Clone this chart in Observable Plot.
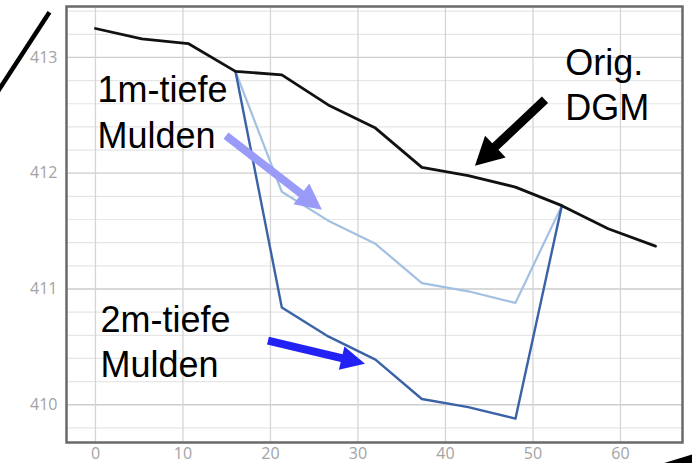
<!DOCTYPE html>
<html>
<head>
<meta charset="utf-8">
<script src="https://cdn.jsdelivr.net/npm/d3@7"></script>
<script src="https://cdn.jsdelivr.net/npm/@observablehq/plot@0.6"></script>
<style>
  html, body { margin: 0; padding: 0; background: #fff; overflow: hidden; }
</style>
</head>
<body>
<div id="chart"></div>
<script>
// ---- data ----
const xDist = [0, 5.3, 10.6, 16, 21.3, 26.6, 32, 37.3, 42.6, 48, 53.3, 58.6, 64];
const origDGM = [413.25, 413.16, 413.12, 412.88, 412.85, 412.59, 412.39, 412.05, 411.98, 411.88, 411.72, 411.52, 411.37];
const xMulden = [16, 21.3, 26.6, 32, 37.3, 42.6, 48, 53.3];
const mulden1m = [412.88, 411.84, 411.59, 411.39, 411.05, 410.98, 410.88, 411.72];
const mulden2m = [412.88, 410.84, 410.59, 410.39, 410.05, 409.98, 409.88, 411.72];

const xTicks = [0, 10, 20, 30, 40, 50, 60];
const yTicks = [410, 411, 412, 413];
const yMinor = [409.8, 410.2, 410.4, 410.6, 410.8, 411.2, 411.4, 411.6, 411.8, 412.2, 412.4, 412.6, 412.8, 413.2, 413.4];

// annotations (data coordinates)
const labels = [
  {x: 0.23, y: 412.22, text: "1m-tiefe\nMulden"},
  {x: 0.57, y: 410.24, text: "2m-tiefe\nMulden"},
  {x: 53.7, y: 412.46, text: "Orig.\nDGM"}
];
const arrows = [
  {x1: 14.97, y1: 412.32, x2: 25.94, y2: 411.68, color: "#9a9af8", w: 8, hw: 26, hl: 26},
  {x1: 19.77, y1: 410.55, x2: 30.86, y2: 410.35, color: "#2222f5", w: 8, hw: 24, hl: 24},
  {x1: 51.43, y1: 412.63, x2: 43.43, y2: 412.06, color: "#000000", w: 9, hw: 30, hl: 28}
];
const slashes = [
  {x1: -12.5, y1: 412.55, x2: -5.26, y2: 413.39, w: 4.5},
  {x1: 57.7, y1: 409.29, x2: 71.4, y2: 409.61, w: 8}
];

const series = [];
xDist.forEach((x, i) => series.push({x, y: origDGM[i], s: "Orig. DGM"}));
xMulden.forEach((x, i) => series.push({x, y: mulden1m[i], s: "1m"}));
xMulden.forEach((x, i) => series.push({x, y: mulden2m[i], s: "2m"}));

const plot = Plot.plot({
  width: 692,
  height: 463,
  marginLeft: 66,
  marginRight: 10,
  marginTop: 6,
  marginBottom: 21,
  style: {background: "#fff", fontFamily: "'Open Sans', sans-serif", fontSize: "16px", color: "#a3a3a3", overflow: "hidden"},
  x: {domain: [-3.31, 67.09], ticks: xTicks, tickFormat: "d", tickSize: 0, tickPadding: 5, label: null},
  y: {domain: [409.674, 413.44], ticks: yTicks, tickFormat: "d", tickSize: 0, tickPadding: 9, label: null},
  marks: [
    Plot.ruleY(yMinor, {stroke: "#e6e6e6", strokeWidth: 1.2}),
    Plot.ruleY(yTicks, {stroke: "#cdcdcd", strokeWidth: 1.3}),
    Plot.ruleX(xTicks, {stroke: "#d4d4d4", strokeWidth: 1.3}),
    Plot.line(series.filter(d => d.s === "1m"), {x: "x", y: "y", stroke: "#a2c0e2", strokeWidth: 2.2}),
    Plot.line(series.filter(d => d.s === "2m"), {x: "x", y: "y", stroke: "#3a62a6", strokeWidth: 2.4}),
    Plot.line(series.filter(d => d.s === "Orig. DGM"), {x: "x", y: "y", stroke: "#111", strokeWidth: 2.8}),
    Plot.frame({stroke: "#6a6a6a", strokeWidth: 2.5}),
    Plot.link(slashes, {x1: "x1", y1: "y1", x2: "x2", y2: "y2", stroke: "#000", strokeWidth: d => d.w, clip: false}),
    Plot.text(labels, {x: "x", y: "y", text: "text", textAnchor: "start", lineAnchor: "bottom", lineHeight: 1.26,
      fontSize: 36, fontFamily: "'Liberation Sans', Arial, sans-serif", fill: "#000"})
  ]
});

// filled arrows positioned with the plot's own scales
const sx = plot.scale("x"), sy = plot.scale("y");
const svg = d3.select(plot.tagName.toLowerCase() === "svg" ? plot : plot.querySelector("svg"));
const g = svg.append("g");
for (const a of arrows) {
  const tx = sx.apply(a.x1), ty = sy.apply(a.y1);
  const px = sx.apply(a.x2), py = sy.apply(a.y2);
  const dx = px - tx, dy = py - ty, L = Math.hypot(dx, dy);
  const ux = dx / L, uy = dy / L, nx = -uy, ny = ux;
  const bx = px - ux * a.hl, by = py - uy * a.hl;
  const pts = [
    [tx + nx * a.w / 2, ty + ny * a.w / 2],
    [bx + nx * a.w / 2, by + ny * a.w / 2],
    [bx + nx * a.hw / 2, by + ny * a.hw / 2],
    [px, py],
    [bx - nx * a.hw / 2, by - ny * a.hw / 2],
    [bx - nx * a.w / 2, by - ny * a.w / 2],
    [tx - nx * a.w / 2, ty - ny * a.w / 2]
  ];
  g.append("polygon").attr("points", pts.map(p => p.join(",")).join(" ")).attr("fill", a.color);
}

document.getElementById("chart").appendChild(plot);
</script>
</body>
</html>
